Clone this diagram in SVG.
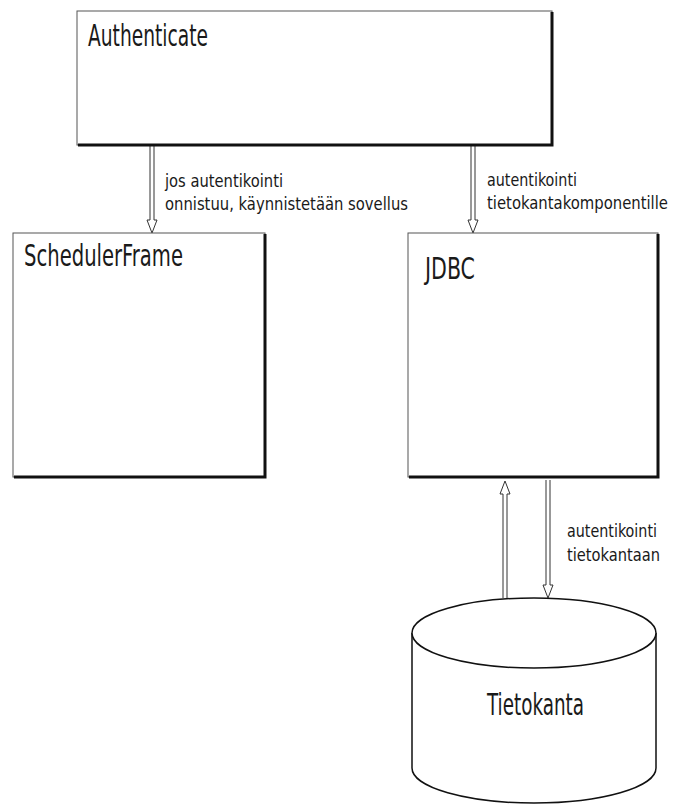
<svg xmlns="http://www.w3.org/2000/svg" width="674" height="805" viewBox="0 0 674 805">
<style>
.box{fill:#fff;stroke:#555;stroke-width:1}
.shadow{fill:none;stroke:#111;stroke-width:3}
.title{font-family:"DejaVu Sans Condensed","Liberation Sans Narrow","Liberation Sans",sans-serif;font-size:30px;fill:#1a1a1a}
.lbl{font-family:"DejaVu Sans Condensed","Liberation Sans Narrow","Liberation Sans",sans-serif;font-size:17px;fill:#1a1a1a}
.arrow{fill:#fff;stroke:#333;stroke-width:1}
.cyl{fill:#fff;stroke:#111;stroke-width:1.5}
</style>
<rect width="674" height="805" fill="#fff"/>
<g id="connectors">
  <path class="arrow" d="M150 146 L150 220 L147 220 L152 233 L157 220 L154 220 L154 146"/>
  <path class="arrow" d="M471 146 L471 220 L468 220 L473 233 L478 220 L475 220 L475 146"/>
  <path class="arrow" d="M503 598 L503 494 L500 494 L505 481 L510 494 L507 494 L507 598"/>
  <path class="arrow" d="M546 480 L546 585 L543 585 L548 598 L553 585 L550 585 L550 480"/>
  <text class="lbl" x="165" y="187" textLength="118" lengthAdjust="spacingAndGlyphs">jos autentikointi</text>
  <text class="lbl" x="165" y="210" textLength="243" lengthAdjust="spacingAndGlyphs">onnistuu, käynnistetään sovellus</text>
  <text class="lbl" x="487" y="186" textLength="90" lengthAdjust="spacingAndGlyphs">autentikointi</text>
  <text class="lbl" x="487" y="209" textLength="181" lengthAdjust="spacingAndGlyphs">tietokantakomponentille</text>
  <text class="lbl" x="567" y="537" textLength="90" lengthAdjust="spacingAndGlyphs">autentikointi</text>
  <text class="lbl" x="567" y="561" textLength="93" lengthAdjust="spacingAndGlyphs">tietokantaan</text>
</g>
<g id="authenticate">
  <rect class="box" x="77" y="11" width="475" height="134"/>
  <path class="shadow" d="M552 12 L552 145 L78 145"/>
  <text class="title" x="88" y="46" textLength="120" lengthAdjust="spacingAndGlyphs">Authenticate</text>
</g>
<g id="schedulerframe">
  <rect class="box" x="13" y="233" width="252" height="244"/>
  <path class="shadow" d="M265 234 L265 477 L14 477"/>
  <text class="title" x="24" y="266" textLength="159" lengthAdjust="spacingAndGlyphs">SchedulerFrame</text>
</g>
<g id="jdbc">
  <rect class="box" x="408" y="233" width="250" height="244"/>
  <path class="shadow" d="M658 234 L658 477 L409 477"/>
  <text class="title" x="425" y="279" textLength="50" lengthAdjust="spacingAndGlyphs">JDBC</text>
</g>
<g id="tietokanta">
  <path class="cyl" d="M412 633 L412 768 A122 35 0 0 0 656 768 L656 633"/>
  <ellipse class="cyl" cx="534" cy="633" rx="122" ry="35"/>
  <text class="title" x="487" y="715" textLength="97" lengthAdjust="spacingAndGlyphs">Tietokanta</text>
</g>
</svg>
